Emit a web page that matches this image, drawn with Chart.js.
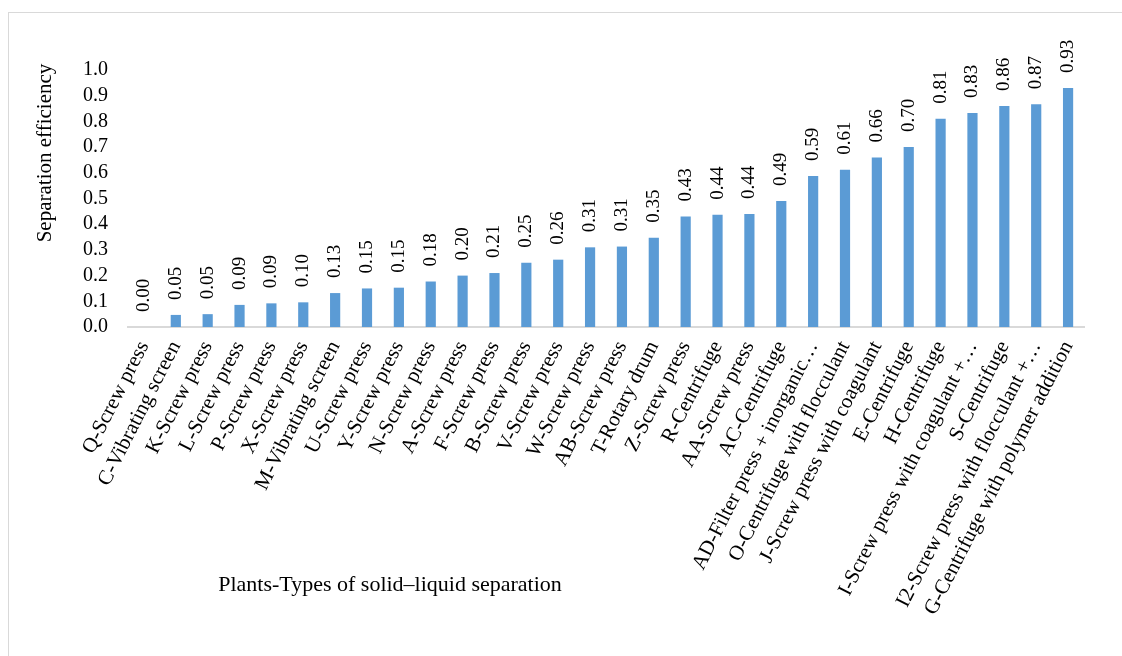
<!DOCTYPE html>
<html>
<head>
<meta charset="utf-8">
<script src="https://cdn.jsdelivr.net/npm/chart.js@4/dist/chart.umd.min.js"></script>
<style>
    html, body { margin: 0; padding: 0; background: #fff; overflow: hidden; }
    #frame { position: absolute; left: 8px; top: 12px; width: 1200px; height: 700px; border: 1px solid #d9d9d9; }
    #wrap { position: absolute; left: 0; top: 0; width: 1122px; height: 656px; }
</style>
</head>
<body>
<div id="frame"></div>
<div id="wrap"><canvas id="chart"></canvas></div>
<script>
// plants and their separation efficiency
const plantLabels = [
    'Q-Screw press', 'C-Vibrating screen', 'K-Screw press', 'L-Screw press', 'P-Screw press',
    'X-Screw press', 'M-Vibrating screen', 'U-Screw press', 'Y-Screw press', 'N-Screw press',
    'A-Screw press', 'F-Screw press', 'B-Screw press', 'V-Screw press', 'W-Screw press',
    'AB-Screw press', 'T-Rotary drum', 'Z-Screw press', 'R-Centrifuge', 'AA-Screw press',
    'AC-Centrifuge', 'AD-Filter press + inorganic…', 'O-Centrifuge with flocculant',
    'J-Screw press with coagulant', 'E-Centrifuge', 'H-Centrifuge', 'I-Screw press with coagulant +…',
    'S-Centrifuge', 'I2-Screw press with flocculant +…', 'G-Centrifuge with polymer addition'
];
const efficiency = [
    0.00, 0.047, 0.05, 0.086, 0.092, 0.096, 0.132, 0.15, 0.153, 0.177,
    0.20, 0.21, 0.25, 0.262, 0.31, 0.313, 0.347, 0.43, 0.437, 0.44,
    0.49, 0.588, 0.612, 0.66, 0.70, 0.81, 0.833, 0.86, 0.867, 0.93
];
const yTicks = [0, 0.1, 0.2, 0.3, 0.4, 0.5, 0.6, 0.7, 0.8, 0.9, 1.0];

const serif = "'Liberation Serif', 'Times New Roman', serif";

// numbers written vertically above each bar
const valueLabels = {
    id: 'valueLabels',
    afterDatasetsDraw(chart) {
        const ctx = chart.ctx;
        const meta = chart.getDatasetMeta(0);
        ctx.save();
        ctx.font = '19px ' + serif;
        ctx.fillStyle = '#000';
        ctx.textAlign = 'left';
        ctx.textBaseline = 'middle';
        meta.data.forEach((bar, i) => {
            ctx.save();
            ctx.translate(bar.x, bar.y - 15);
            ctx.rotate(-Math.PI / 2);
            ctx.fillText(efficiency[i].toFixed(2), 0, 0);
            ctx.restore();
        });
        ctx.restore();
    }
};

// axis titles sit off-centre in the original, so they are drawn by hand
const axisTitles = {
    id: 'axisTitles',
    afterDraw(chart) {
        const ctx = chart.ctx;
        ctx.save();
        ctx.fillStyle = '#000';
        ctx.textAlign = 'center';
        ctx.textBaseline = 'middle';
        ctx.font = '22px ' + serif;
        ctx.fillText('Plants-Types of solid\u2013liquid separation', 390, 585);
        ctx.font = '21px ' + serif;
        ctx.translate(45, 153);
        ctx.rotate(-Math.PI / 2);
        ctx.fillText('Separation efficiency', 0, 0);
        ctx.restore();
    }
};

new Chart(document.getElementById('chart'), {
    type: 'bar',
    data: {
        labels: plantLabels,
        datasets: [{
            data: efficiency,
            backgroundColor: '#5B9BD5',
            borderWidth: 0,
            barPercentage: 0.32,
            categoryPercentage: 1.0
        }]
    },
    options: {
        responsive: true,
        maintainAspectRatio: false,
        animation: false,
        layout: { padding: { left: 0, right: 38, top: 70, bottom: 0 } },
        plugins: {
            legend: { display: false },
            tooltip: { enabled: false }
        },
        scales: {
            x: {
                grid: { display: false, drawTicks: false },
                border: { display: true, color: '#d9d9d9', width: 2 },
                ticks: {
                    color: '#000',
                    font: { family: serif, size: 21 },
                    autoSkip: false,
                    maxRotation: 63,
                    minRotation: 63,
                    padding: 10
                },
                afterFit: (scale) => { scale.height = 329; }
            },
            y: {
                min: 0,
                max: 1.0,
                grid: { display: false, drawTicks: false },
                border: { display: false },
                afterBuildTicks: (scale) => { scale.ticks = yTicks.map(v => ({ value: v })); },
                ticks: {
                    color: '#000',
                    font: { family: serif, size: 20 },
                    autoSkip: false,
                    padding: 20,
                    callback: (v) => v.toFixed(1)
                },
                afterFit: (scale) => { scale.width = 128; }
            }
        }
    },
    plugins: [valueLabels, axisTitles]
});
</script>
</body>
</html>
